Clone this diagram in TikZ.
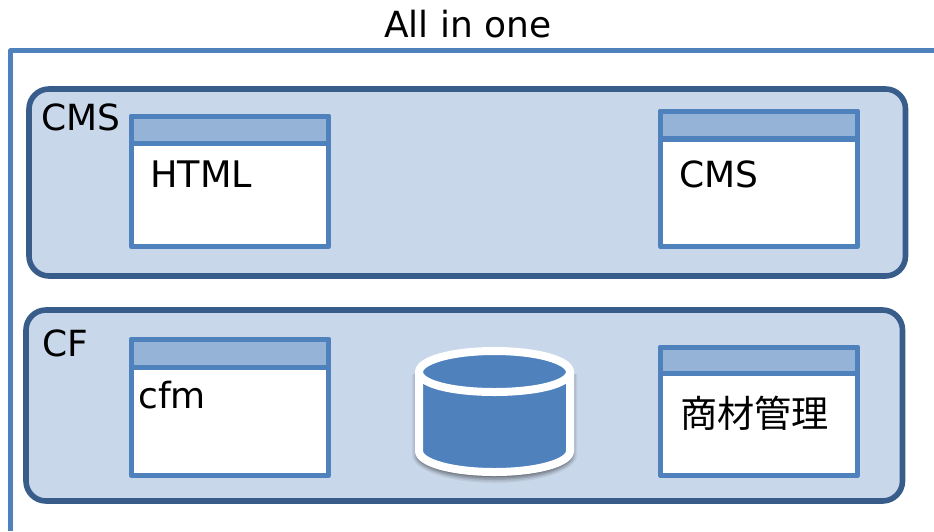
\documentclass[tikz,border=0pt]{standalone}
\usepackage{fontspec}
\setmainfont{DejaVu Sans}
\newfontfamily\cjkfont{Noto Sans CJK JP}
\definecolor{framec}{HTML}{4F81BD}
\definecolor{groupline}{HTML}{385D8A}
\definecolor{groupfill}{HTML}{C9D7EA}
\definecolor{barfill}{HTML}{95B3D7}
\tikzset{
  x=1pt,y=-1pt,
  grouptile/.style={draw=groupline,fill=groupfill,line width=5.6pt,rounded corners=20pt},
  winbody/.style={draw=framec,fill=white,line width=5.4pt,line join=round},
  winbar/.style={draw=framec,fill=barfill,line width=5.4pt,line join=round},
  label/.style={font=\fontsize{36}{36}\selectfont,inner sep=0pt,text=black,anchor=base west},
  widelabel/.style={label,font=\fontsize{36.6}{36.6}\selectfont},
}
\newcommand{\winbox}[6]{% name x0 y0 x1 y1 sepy
  \path[winbody] (#2,#3) rectangle (#4,#5) coordinate (#1);
  \path[winbar] (#2,#3) rectangle (#4,#6);
}
\begin{document}
\begin{tikzpicture}
\useasboundingbox (0,0) rectangle (934,531);
% outer frame
\coordinate (fa) at (10.7,531);
\coordinate (fb) at (10.7,50.7);
\coordinate (fc) at (934,50.7);
\draw[draw=framec,line width=5.4pt,line join=round] (fa) -- (fb) -- (fc);
\node[label] (title) at (384,37) {All in one};
% groups
\path[grouptile] (29,89) rectangle (905.5,276);
\path[grouptile] (26,310) rectangle (902.5,501);
\node[label] (cmsgroup) at (41,130) {CMS};
\node[label] (cfgroup) at (42,356) {CF};
% windows
\winbox{w1}{131.5}{116.5}{328.5}{246.5}{143.5}
\winbox{w2}{660.5}{111.5}{857.5}{246.5}{139}
\winbox{w3}{131.5}{339.5}{328.5}{475.5}{367.5}
\winbox{w4}{660.5}{347.5}{857.5}{475.5}{373.5}
\node[widelabel] (html) at (150,187) {HTML};
\node[label] (cmsw) at (679,187) {CMS};
\node[label] (cfm) at (138,408) {cfm};
\node[label,font=\cjkfont\fontsize{37.2}{37.2}\selectfont] (shozai) at (680,427) {商材管理};
% database cylinder: soft shadow
\foreach \d/\o in {7/0.06,5.5/0.08,4/0.11,2.5/0.13,1/0.15}{
  \fill[black,opacity=\o] (419-\d,372+2) -- (419-\d,452+3)
    arc[start angle=180,end angle=0,x radius=75.5+\d,y radius=21+\d]
    -- (570+\d,372+2) -- cycle;
}
\path[fill=framec,draw=white,line width=8pt,line join=round]
  (419,372) -- (419,451)
  .. controls (419,463) and (453,472) .. (494.5,472)
  .. controls (536,472) and (570,463) .. (570,451)
  -- (570,372)
  .. controls (570,360) and (536,351) .. (494.5,351)
  .. controls (453,351) and (419,360) .. (419,372) -- cycle;
\draw[white,line width=8pt]
  (419,372) .. controls (419,384) and (453,392) .. (494.5,392)
  .. controls (536,392) and (570,384) .. (570,372);
\end{tikzpicture}
\end{document}
